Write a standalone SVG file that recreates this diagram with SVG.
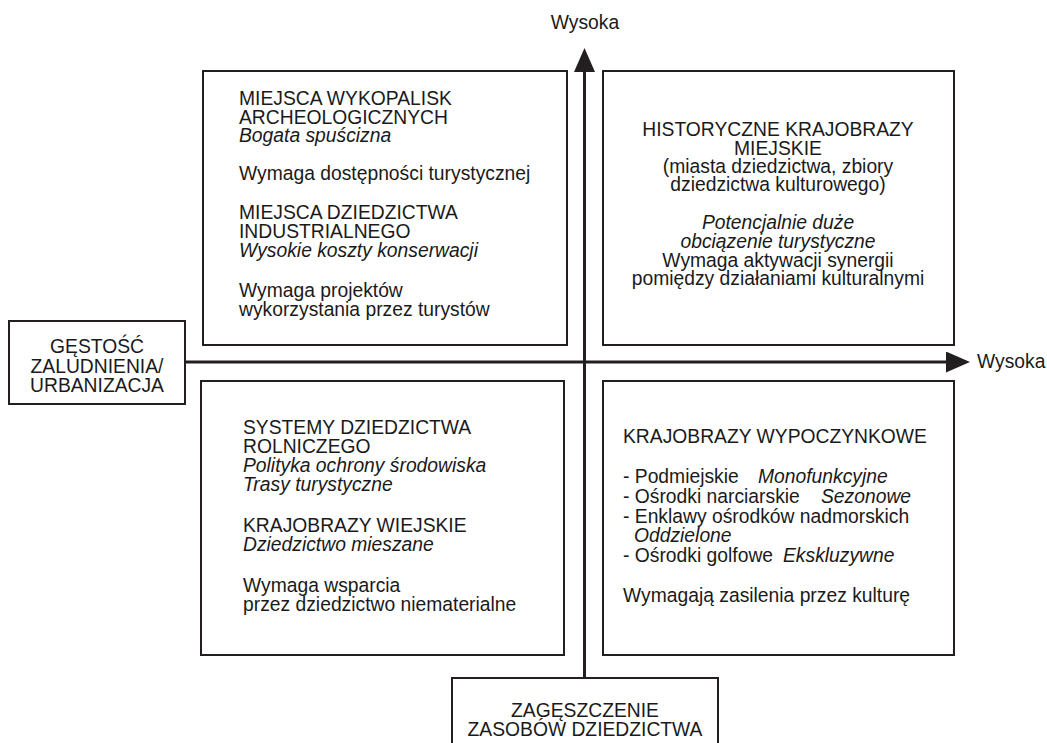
<svg xmlns="http://www.w3.org/2000/svg" width="1047" height="743" viewBox="0 0 1047 743">
<style>
text{font-family:"Liberation Sans",Arial,sans-serif;font-size:19.3px;fill:#1a1a1a}
.i{font-style:italic}
.c{text-anchor:middle}
.box{fill:#fff;stroke:#231f20;stroke-width:2}
.axis{stroke:#231f20;stroke-width:3;fill:none}
</style>
<defs>
<marker id="ah" markerUnits="userSpaceOnUse" markerWidth="24" markerHeight="21" refX="1" refY="10.5" orient="auto">
<path d="M0,0 L24,10.5 L0,21 z" fill="#231f20"/>
</marker>
</defs>
<rect width="1047" height="743" fill="#fff"/>
<g id="connectors">
<line class="axis" x1="185" y1="362" x2="947" y2="362" marker-end="url(#ah)"/>
<line class="axis" x1="584.5" y1="678" x2="584.5" y2="71" marker-end="url(#ah)"/>
</g>
<g id="label-top"><text class="c" x="585" y="29">Wysoka</text></g>
<g id="label-right"><text x="977" y="368">Wysoka</text></g>
<g id="node-tl">
<rect class="box" x="203" y="71" width="364" height="274"/>
<text x="239" y="105">MIEJSCA WYKOPALISK</text>
<text x="239" y="123.5">ARCHEOLOGICZNYCH</text>
<text class="i" x="239" y="142">Bogata spuścizna</text>
<text x="239" y="180">Wymaga dostępności turystycznej</text>
<text x="239" y="219">MIEJSCA DZIEDZICTWA</text>
<text x="239" y="237.5">INDUSTRIALNEGO</text>
<text class="i" x="239" y="256.5">Wysokie koszty konserwacji</text>
<text x="239" y="297">Wymaga projektów</text>
<text x="239" y="316">wykorzystania przez turystów</text>
</g>
<g id="node-tr">
<rect class="box" x="603" y="71" width="351" height="274"/>
<text class="c" x="778" y="136">HISTORYCZNE KRAJOBRAZY</text>
<text class="c" x="778" y="154.5">MIEJSKIE</text>
<text class="c" x="778" y="173">(miasta dziedzictwa, zbiory</text>
<text class="c" x="778" y="191">dziedzictwa kulturowego)</text>
<text class="c i" x="778" y="228.5">Potencjalnie duże</text>
<text class="c i" x="778" y="247.5">obciązenie turystyczne</text>
<text class="c" x="778" y="266.5">Wymaga aktywacji synergii</text>
<text class="c" x="778" y="285">pomiędzy działaniami kulturalnymi</text>
</g>
<g id="node-bl">
<rect class="box" x="201" y="381" width="363" height="274"/>
<text x="243" y="434">SYSTEMY DZIEDZICTWA</text>
<text x="243" y="452.5">ROLNICZEGO</text>
<text class="i" x="243" y="471.5">Polityka ochrony środowiska</text>
<text class="i" x="243" y="490.5">Trasy turystyczne</text>
<text x="243" y="531.5">KRAJOBRAZY WIEJSKIE</text>
<text class="i" x="243" y="550.5">Dziedzictwo mieszane</text>
<text x="243" y="591.5">Wymaga wsparcia</text>
<text x="243" y="611">przez dziedzictwo niematerialne</text>
</g>
<g id="node-br">
<rect class="box" x="603" y="381" width="351" height="274"/>
<text x="623" y="442.5">KRAJOBRAZY WYPOCZYNKOWE</text>
<text x="623" y="482.5">- Podmiejskie<tspan class="i" x="758">Monofunkcyjne</tspan></text>
<text x="623" y="502.5">- Ośrodki narciarskie<tspan class="i" x="821">Sezonowe</tspan></text>
<text x="623" y="522.5">- Enklawy ośrodków nadmorskich</text>
<text class="i" x="634" y="541.5">Oddzielone</text>
<text x="623" y="561.5">- Ośrodki golfowe <tspan class="i" x="783">Ekskluzywne</tspan></text>
<text x="623" y="601.5">Wymagają zasilenia przez kulturę</text>
</g>
<g id="node-left">
<rect class="box" x="9" y="321" width="176" height="83"/>
<text class="c" x="97" y="353">GĘSTOŚĆ</text>
<text class="c" x="97" y="372.5">ZALUDNIENIA/</text>
<text class="c" x="97" y="392">URBANIZACJA</text>
</g>
<g id="node-bottom">
<rect class="box" x="452" y="678" width="266" height="80"/>
<text class="c" x="585" y="717">ZAGĘSZCZENIE</text>
<text class="c" x="585" y="736">ZASOBÓW DZIEDZICTWA</text>
</g>
</svg>
